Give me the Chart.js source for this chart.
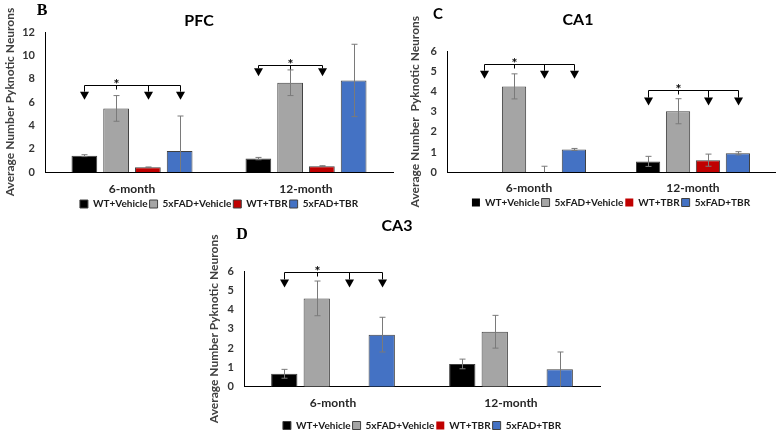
<!DOCTYPE html>
<html>
<head>
<meta charset="utf-8">
<script src="https://cdn.jsdelivr.net/npm/chart.js@4.4.1/dist/chart.umd.min.js"></script>
<style>
  html, body { margin: 0; padding: 0; background: #fff; overflow: hidden; width: 780px; height: 436px; }
  canvas { position: absolute; }
  #pfc { left: 0; top: 0; }
  #ca1 { left: 395px; top: 0; }
  #ca3 { left: 195px; top: 212px; }
</style>
</head>
<body>
<canvas id="pfc" width="395" height="220"></canvas>
<canvas id="ca1" width="385" height="219"></canvas>
<canvas id="ca3" width="410" height="230"></canvas>
<script>
// categories and series
const months = ['6-month', '12-month'];
const groups = ['WT+Vehicle', '5xFAD+Vehicle', 'WT+TBR', '5xFAD+TBR'];
const groupColors = ['#000000', '#a5a5a5', '#c00000', '#4472c4'];

// PFC
const pfcWtVeh = [1.4, 1.15];
const pfcWtVehErr = [0.08, 0.1];
const pfcFadVeh = [5.45, 7.65];
const pfcFadVehErr = [1.1, 1.1];
const pfcWtTbr = [0.4, 0.5];
const pfcWtTbrErr = [0.03, 0.04];
const pfcFadTbr = [1.8, 7.85];
const pfcFadTbrErr = [3.0, 3.1];
const pfcTicks = { max: 12, step: 2 };

// CA1
const ca1WtVeh = [0, 0.54];
const ca1WtVehErr = [0, 0.25];
const ca1FadVeh = [4.25, 3.02];
const ca1FadVehErr = [0.62, 0.62];
const ca1WtTbr = [0, 0.6];
const ca1WtTbrErr = [0.3, 0.3];
const ca1FadTbr = [1.13, 0.94];
const ca1FadTbrErr = [0.05, 0.08];
const ca1Ticks = { max: 6, step: 1 };

// CA3
const ca3WtVeh = [0.67, 1.18];
const ca3WtVehErr = [0.23, 0.25];
const ca3FadVeh = [4.58, 2.85];
const ca3FadVehErr = [0.9, 0.85];
const ca3WtTbr = [0, 0];
const ca3WtTbrErr = [0, 0];
const ca3FadTbr = [2.7, 0.9];
const ca3FadTbrErr = [0.9, 0.9];
const ca3Ticks = { max: 6, step: 1 };

// significance brackets: group index, bracket level, arrow tip value, arrowed bars, star bar
const pfcSig = [
  { group: 0, level: 7.5, tip: 6.2, bars: [0, 2, 3], star: 1 },
  { group: 1, level: 9.2, tip: 8.2, bars: [0, 2], star: 1 }
];
const ca1Sig = [
  { group: 0, level: 5.35, tip: 4.63, bars: [0, 2, 3], star: 1 },
  { group: 1, level: 4.05, tip: 3.3, bars: [0, 2, 3], star: 1 }
];
const ca3Sig = [
  { group: 0, level: 5.97, tip: 5.15, bars: [0, 2, 3], star: 1 }
];

Chart.defaults.font.family = 'Lato, "Open Sans", sans-serif';

function errorBars(errs) {
  return {
    id: 'errorBars',
    afterDatasetsDraw(chart) {
      const ctx = chart.ctx, y = chart.scales.y;
      ctx.save();
      ctx.strokeStyle = '#7a7a7a';
      ctx.lineWidth = 1;
      errs.forEach((e, i) => {
        const vals = chart.data.datasets[i].data;
        chart.getDatasetMeta(i).data.forEach((bar, j) => {
          if (!e[j]) return;
          const x = Math.round(bar.x) + 0.5;
          const top = y.getPixelForValue(vals[j] + e[j]);
          const bot = y.getPixelForValue(Math.max(0, vals[j] - e[j]));
          ctx.beginPath();
          ctx.moveTo(x, top); ctx.lineTo(x, bot);
          ctx.moveTo(x - 3, top); ctx.lineTo(x + 3, top);
          if (vals[j] - e[j] > 0) { ctx.moveTo(x - 3, bot); ctx.lineTo(x + 3, bot); }
          ctx.stroke();
        });
      });
      ctx.restore();
    }
  };
}

function sigMarks(marks) {
  return {
    id: 'sigMarks',
    afterDatasetsDraw(chart) {
      const ctx = chart.ctx, y = chart.scales.y;
      ctx.save();
      ctx.strokeStyle = '#000';
      ctx.fillStyle = '#000';
      ctx.lineWidth = 1;
      marks.forEach(m => {
        const xs = m.bars.map(b => Math.round(chart.getDatasetMeta(b).data[m.group].x) + 0.5);
        const sx = Math.round(chart.getDatasetMeta(m.star).data[m.group].x) + 0.5;
        const ly = Math.round(y.getPixelForValue(m.level)) + 0.5;
        const ty = y.getPixelForValue(m.tip);
        ctx.beginPath();
        ctx.moveTo(Math.min(...xs), ly); ctx.lineTo(Math.max(...xs), ly);
        ctx.moveTo(sx, ly); ctx.lineTo(sx, ly + 4);
        ctx.stroke();
        xs.forEach(x => {
          ctx.beginPath();
          ctx.moveTo(x, ly); ctx.lineTo(x, ty - 8);
          ctx.stroke();
          ctx.beginPath();
          ctx.moveTo(x - 4.5, ty - 8); ctx.lineTo(x + 4.5, ty - 8); ctx.lineTo(x, ty);
          ctx.closePath();
          ctx.fill();
        });
        ctx.font = 'bold 14px Lato';
        ctx.textAlign = 'center';
        ctx.textBaseline = 'alphabetic';
        ctx.fillText('*', sx, ly + 3);
      });
      ctx.restore();
    }
  };
}

function panelDeco(d) {
  return {
    id: 'panelDeco',
    afterDraw(chart) {
      const ctx = chart.ctx;
      ctx.save();
      ctx.textAlign = 'center';
      ctx.textBaseline = 'middle';
      ctx.fillStyle = '#000';
      ctx.font = d.letterFont;
      ctx.fillText(d.letter, d.lx, d.ly);
      ctx.font = 'bold 16px Lato';
      ctx.fillText(d.title, d.tx, d.ty);
      ctx.restore();
    }
  };
}

function makeChart(id, series, errs, ticks, sig, deco, lay) {
  const datasets = series.map((s, i) => ({
    label: groups[i],
    data: s,
    backgroundColor: groupColors[i],
    borderColor: '#404040',
    borderWidth: c => (c.type === 'data' && c.raw === 0) ? 0 : 1,
    barPercentage: 0.81,
    categoryPercentage: 0.73
  }));
  return new Chart(document.getElementById(id), {
    type: 'bar',
    data: { labels: months, datasets },
    options: {
      responsive: false,
      animation: false,
      layout: { padding: { left: 0, right: lay.right, top: lay.top, bottom: lay.bottom } },
      plugins: {
        tooltip: { enabled: false },
        legend: {
          position: 'bottom',
          fullSize: false,
          labels: {
            boxWidth: 8, boxHeight: 8, padding: 2,
            color: '#1a1a1a',
            font: { size: 10, weight: 'bold' }
          }
        }
      },
      scales: {
        x: {
          grid: { display: false, drawTicks: false },
          border: { color: '#000', width: 1 },
          ticks: { color: '#262626', padding: lay.xPad, font: { size: 12, weight: 'bold' } },
          afterFit: s => { s.height = lay.xH; }
        },
        y: {
          min: 0, max: ticks.max,
          grid: { display: false, drawTicks: false },
          border: { color: '#000', width: 1 },
          ticks: { stepSize: ticks.step, padding: 10, color: '#333333', font: { size: 11, weight: 'bold' } },
          title: {
            display: true, text: lay.yTitle, color: '#404040',
            font: { size: 12, weight: 'bold' },
            padding: { top: lay.tPad, bottom: 0 }
          },
          afterFit: s => { s.width = lay.yW; }
        }
      }
    },
    plugins: [errorBars(errs), sigMarks(sig), panelDeco(deco)]
  });
}

makeChart('pfc',
  [pfcWtVeh, pfcFadVeh, pfcWtTbr, pfcFadTbr],
  [pfcWtVehErr, pfcFadVehErr, pfcWtTbrErr, pfcFadTbrErr],
  pfcTicks, pfcSig,
  { letter: 'B', letterFont: 'bold 16px "Liberation Serif"', lx: 42, ly: 11, title: 'PFC', tx: 199, ty: 21 },
  { right: 2, top: 32, bottom: 1, xH: 25, xPad: 10, yW: 45, tPad: 3, yTitle: 'Average Number Pyknotic Neurons' });

makeChart('ca1',
  [ca1WtVeh, ca1FadVeh, ca1WtTbr, ca1FadTbr],
  [ca1WtVehErr, ca1FadVehErr, ca1WtTbrErr, ca1FadTbrErr],
  ca1Ticks, ca1Sig,
  { letter: 'C', letterFont: 'bold 15px Lato', lx: 43, ly: 14, title: 'CA1', tx: 183, ty: 20 },
  { right: 5, top: 51, bottom: 1.5, xH: 23.2, xPad: 8.5, yW: 52, tPad: 13, yTitle: 'Average Number  Pyknotic Neurons' });

makeChart('ca3',
  [ca3WtVeh, ca3FadVeh, ca3WtTbr, ca3FadTbr],
  [ca3WtVehErr, ca3FadVehErr, ca3WtTbrErr, ca3FadTbrErr],
  ca3Ticks, ca3Sig,
  { letter: 'D', letterFont: 'bold 16px "Liberation Serif"', lx: 47, ly: 23, title: 'CA3', tx: 202, ty: 14 },
  { right: 5, top: 59, bottom: 1.5, xH: 31.8, xPad: 9, yW: 49, tPad: 12, yTitle: 'Average Number Pyknotic Neurons' });
</script>
</body>
</html>
